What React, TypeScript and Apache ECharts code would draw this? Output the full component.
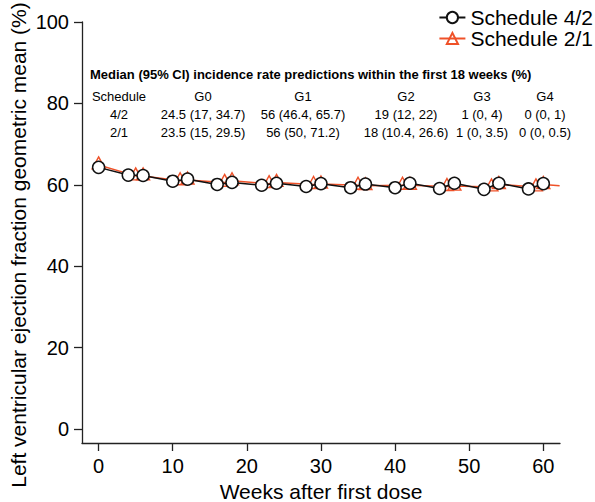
import React, { useEffect, useRef } from 'react';
import * as echarts from 'echarts';

const weeks42 = [0, 4, 6, 10, 12, 16, 18, 22, 24, 28, 30, 34, 36, 40, 42, 46, 48, 52, 54, 58, 60];
const lvef42 = [64.3, 62.4, 62.3, 60.9, 61.4, 60.1, 60.6, 59.9, 60.4, 59.6, 60.3, 59.3, 60.2, 59.3, 60.4, 59.1, 60.4, 58.9, 60.4, 59.0, 60.3];
const weeks21 = [0, 5, 6, 11, 12, 17, 18, 23, 24, 29, 30, 35, 36, 41, 42, 47, 48, 53, 54, 59, 60];
const lvef21 = [64.9, 62.2, 62.2, 61.0, 61.2, 60.6, 61.0, 60.3, 60.6, 60.1, 60.2, 59.9, 59.8, 59.9, 59.9, 59.6, 59.7, 59.5, 60.1, 59.5, 60.1];
const lineEnd21 = [62.2, 59.8];

const xTicks = [0, 10, 20, 30, 40, 50, 60];
const yTicks = [0, 20, 40, 60, 80, 100];

const seriesNames = ['Schedule 4/2', 'Schedule 2/1'];
const xTitle = 'Weeks after first dose';
const yTitle = 'Left ventricular ejection fraction geometric mean (%)';
const tableTitle = 'Median (95% CI) incidence rate predictions within the first 18 weeks (%)';
const tableHeader = ['Schedule', 'G0', 'G1', 'G2', 'G3', 'G4'];
const tableRows = [
  ['4/2', '24.5 (17, 34.7)', '56 (46.4, 65.7)', '19 (12, 22)', '1 (0, 4)', '0 (0, 1)'],
  ['2/1', '23.5 (15, 29.5)', '56 (50, 71.2)', '18 (10.4, 26.6)', '1 (0, 3.5)', '0 (0, 0.5)'],
];

const FONT = '"Liberation Sans", Arial, Helvetica, sans-serif';
const BLACK = '#111111';
const RED = '#EF5128';

const colX = [119, 203, 303, 406, 482, 545];
const rowY = [96, 114, 132];

function buildGraphic() {
  const els: any[] = [];
  els.push({
    type: 'text',
    x: 18,
    y: 245,
    rotation: Math.PI / 2,
    style: {
      text: yTitle,
      fontFamily: FONT,
      fontSize: 21,
      fill: '#000',
      align: 'center',
      verticalAlign: 'middle',
    },
  });
  els.push({
    type: 'text',
    x: 90,
    y: 74,
    style: {
      text: tableTitle,
      fontFamily: FONT,
      fontSize: 13,
      fontWeight: 'bold',
      fill: '#000',
      align: 'left',
      verticalAlign: 'middle',
    },
  });
  const rows = [tableHeader, ...tableRows];
  rows.forEach((row, ri) => {
    row.forEach((cell, ci) => {
      els.push({
        type: 'text',
        x: colX[ci],
        y: rowY[ri],
        style: {
          text: cell,
          fontFamily: FONT,
          fontSize: 13,
          fill: '#000',
          align: 'center',
          verticalAlign: 'middle',
        },
      });
    });
  });
  return els;
}

export default function App() {
  const ref = useRef<HTMLDivElement>(null);
  useEffect(() => {
    const chart = echarts.init(ref.current!, null, { renderer: 'svg' });
    const axisCommon = {
      type: 'value',
      nameLocation: 'middle',
      nameTextStyle: { fontSize: 21, color: '#000', fontFamily: FONT },
      axisLine: { show: true, onZero: false, lineStyle: { color: '#222', width: 1.3 } },
      splitLine: { show: false },
    };
    const option: any = {
      animation: false,
      textStyle: { fontFamily: FONT },
      grid: { left: 82, right: 35, top: 22, bottom: 59, containLabel: false, outerBoundsMode: 'none' },
      legend: {
        orient: 'vertical',
        right: -3,
        top: 2,
        itemWidth: 26,
        itemHeight: 14,
        itemGap: 0,
        textStyle: { fontSize: 21, lineHeight: 21, color: '#000', fontFamily: FONT },
        data: seriesNames,
      },
      xAxis: {
        ...axisCommon,
        min: -2.24,
        max: 62.25,
        name: xTitle,
        nameGap: 36,
        axisTick: { show: true, customValues: xTicks, length: 8, lineStyle: { color: '#222', width: 1.3 } },
        axisLabel: { customValues: xTicks, fontSize: 20, color: '#000', margin: 13, fontFamily: FONT },
      },
      yAxis: {
        ...axisCommon,
        min: -3.4,
        max: 100,
        axisTick: { show: true, customValues: yTicks, length: 8, lineStyle: { color: '#222', width: 1.3 } },
        axisLabel: { customValues: yTicks, fontSize: 20, color: '#000', margin: 13, fontFamily: FONT },
      },
      graphic: buildGraphic(),
      series: [
        {
          name: seriesNames[1],
          type: 'line',
          z: 2,
          data: [
            ...weeks21.map((w, i) => [w, lvef21[i]]),
            { value: lineEnd21, symbol: 'none' },
          ],
          symbol: 'triangle',
          symbolSize: [13, 12],
          symbolOffset: [0, -2],
          showAllSymbol: true,
          lineStyle: { color: RED, width: 1.5 },
          itemStyle: { color: 'rgba(255,255,255,0)', borderColor: RED, borderWidth: 1.4 },
        },
        {
          name: seriesNames[0],
          type: 'line',
          z: 3,
          data: weeks42.map((w, i) => [w, lvef42[i]]),
          symbol: 'circle',
          symbolSize: 12,
          showAllSymbol: true,
          lineStyle: { color: BLACK, width: 1.5 },
          itemStyle: { color: '#ffffff', borderColor: BLACK, borderWidth: 1.5 },
        },
      ],
    };
    chart.setOption(option);
    return () => chart.dispose();
  }, []);
  return (
    <div
      ref={ref}
      style={{ position: 'fixed', left: 0, top: 0, width: 595, height: 502, background: '#fff' }}
    />
  );
}
